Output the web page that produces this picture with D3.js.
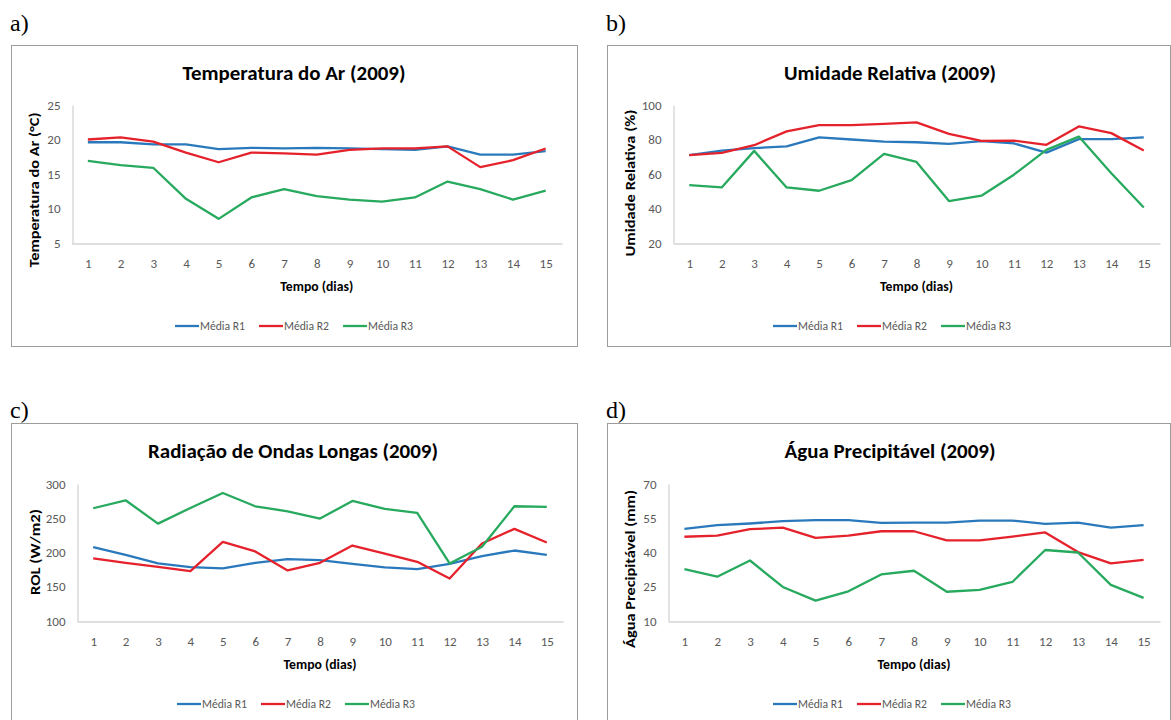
<!DOCTYPE html>
<html>
<head>
<meta charset="utf-8">
<script src="https://cdn.jsdelivr.net/npm/d3@7"></script>
<style>
  html, body { margin: 0; padding: 0; background: #fff; }
  svg { display: block; }
</style>
</head>
<body>
<svg id="chart" width="1171" height="720"></svg>
<script>
// ---- data ----------------------------------------------------------
const days = [1, 2, 3, 4, 5, 6, 7, 8, 9, 10, 11, 12, 13, 14, 15];
const seriesNames = ["Média R1", "Média R2", "Média R3"];

// a) Temperatura do Ar (°C)
const tempR1 = [19.6, 19.6, 19.3, 19.3, 18.6, 18.8, 18.7, 18.8, 18.7, 18.6, 18.5, 19.0, 17.8, 17.8, 18.3];
const tempR2 = [20.0, 20.3, 19.7, 18.1, 16.7, 18.1, 18.0, 17.8, 18.5, 18.7, 18.7, 19.0, 16.0, 17.0, 18.7];
const tempR3 = [16.9, 16.3, 15.9, 11.4, 8.5, 11.6, 12.8, 11.8, 11.3, 11.0, 11.6, 13.9, 12.8, 11.3, 12.6];
const tempTicks = [5, 10, 15, 20, 25];

// b) Umidade Relativa (%)
const umidR1 = [70.9, 73.6, 75.0, 76.0, 81.2, 80.0, 78.8, 78.4, 77.5, 79.0, 77.7, 72.4, 80.2, 80.2, 81.2];
const umidR2 = [70.9, 72.2, 76.7, 84.7, 88.3, 88.3, 89.1, 89.9, 83.3, 79.2, 79.4, 76.9, 87.6, 83.7, 73.6];
const umidR3 = [53.6, 52.2, 73.4, 52.2, 50.3, 56.5, 71.7, 67.0, 44.3, 47.4, 59.6, 74.0, 81.7, 60.4, 40.6];
const umidTicks = [20, 40, 60, 80, 100];

// c) Radiação de Ondas Longas (W/m2)
const rolR1 = [207.8, 196.6, 184.0, 178.6, 176.7, 185.0, 190.3, 188.8, 183.5, 178.2, 175.7, 183.5, 194.7, 202.9, 196.6];
const rolR2 = [191.3, 185.0, 179.1, 172.8, 215.5, 201.5, 173.8, 185.0, 210.2, 198.5, 186.4, 162.1, 213.1, 234.5, 214.6];
const rolR3 = [264.6, 276.2, 242.2, 265.0, 286.9, 267.5, 260.2, 249.5, 275.2, 263.6, 257.8, 184.0, 208.3, 267.5, 266.5];
const rolTicks = [100, 150, 200, 250, 300];

// d) Água Precipitável (mm)
const aguaR1 = [50.3, 52.0, 52.7, 53.7, 54.2, 54.2, 53.0, 53.1, 53.1, 54.0, 54.0, 52.5, 53.1, 50.9, 52.0];
const aguaR2 = [46.9, 47.4, 50.2, 50.9, 46.4, 47.4, 49.3, 49.3, 45.3, 45.3, 47.0, 48.8, 40.2, 35.2, 36.8];
const aguaR3 = [32.7, 29.4, 36.5, 24.9, 18.9, 23.0, 30.4, 32.0, 22.8, 23.6, 27.1, 41.1, 40.0, 25.8, 20.1];
const aguaTicks = [10, 25, 40, 55, 70];

// ---- panel layout --------------------------------------------------
const colors = ["#2A79BC", "#E5222B", "#27A95E"];
const calibri = "Carlito, 'Liberation Sans Narrow', Lato, 'Open Sans', sans-serif";

const panels = [
  { tag: "a)", tagX: 10, tagY: 31,
    box: { x: 11, y: 45, w: 566, h: 301 },
    plot: { l: 71.5, r: 562, t: 105, b: 243 },
    title: "Temperatura do Ar (2009)", titleCX: 294, titleY: 80, titleW: 223,
    yLabel: "Temperatura do Ar (°C)", yLabelX: 35, yLabelCY: 190, yLabelW: 155,
    legendCX: 293,
    ticks: tempTicks, series: [tempR1, tempR2, tempR3] },
  { tag: "b)", tagX: 606, tagY: 31,
    box: { x: 607, y: 45, w: 563, h: 301 },
    plot: { l: 673, r: 1160, t: 105, b: 243 },
    title: "Umidade Relativa (2009)", titleCX: 890, titleY: 80, titleW: 212,
    yLabel: "Umidade Relativa (%)", yLabelX: 631, yLabelCY: 183, yLabelW: 147,
    legendCX: 891,
    ticks: umidTicks, series: [umidR1, umidR2, umidR3] },
  { tag: "c)", tagX: 10, tagY: 418,
    box: { x: 11, y: 423, w: 566, h: 320 },
    plot: { l: 77, r: 563, t: 484, b: 621 },
    title: "Radiação de Ondas Longas (2009)", titleCX: 293, titleY: 458, titleW: 290,
    yLabel: "ROL (W/m2)", yLabelX: 36, yLabelCY: 552, yLabelW: 86,
    legendCX: 295,
    ticks: rolTicks, series: [rolR1, rolR2, rolR3] },
  { tag: "d)", tagX: 606, tagY: 418,
    box: { x: 607, y: 423, w: 563, h: 320 },
    plot: { l: 668, r: 1160, t: 484, b: 621 },
    title: "Água Precipitável (2009)", titleCX: 890, titleY: 458, titleW: 211,
    yLabel: "Água Precipitável (mm)", yLabelX: 631, yLabelCY: 569, yLabelW: 158,
    legendCX: 891,
    ticks: aguaTicks, series: [aguaR1, aguaR2, aguaR3] }
];

const svg = d3.select("#chart");

panels.forEach(p => {
  const g = svg.append("g");

  // panel letter
  g.append("text")
    .attr("x", p.tagX).attr("y", p.tagY)
    .attr("font-family", "'Liberation Serif', 'Times New Roman', serif")
    .attr("font-size", 24).attr("fill", "#000")
    .text(p.tag);

  // chart frame
  g.append("rect")
    .attr("x", p.box.x + 0.5).attr("y", p.box.y + 0.5)
    .attr("width", p.box.w).attr("height", p.box.h)
    .attr("fill", "#fff").attr("stroke", "#9c9c9c").attr("stroke-width", 1);

  // scales
  const x = d3.scalePoint().domain(days).range([p.plot.l, p.plot.r]).padding(0.5);
  const y = d3.scaleLinear()
    .domain([p.ticks[0], p.ticks[p.ticks.length - 1]])
    .range([p.plot.b, p.plot.t]);

  // axes
  const xAxis = g.append("g")
    .attr("transform", `translate(0,${p.plot.b + 0.5})`)
    .call(d3.axisBottom(x).tickSize(0).tickPadding(15));
  const yAxis = g.append("g")
    .attr("transform", `translate(${Math.round(p.plot.l) + 0.5},0)`)
    .call(d3.axisLeft(y).tickValues(p.ticks).tickSize(0).tickPadding(12));
  [xAxis, yAxis].forEach(ax => {
    ax.select(".domain").attr("stroke", "#d4d4d4").attr("stroke-width", 1.3);
    ax.selectAll("text")
      .attr("font-family", calibri)
      .attr("font-size", 13).attr("fill", "#595959");
  });

  // series lines
  const line = d3.line().x((d, i) => x(days[i])).y(d => y(d));
  p.series.forEach((vals, k) => {
    g.append("path")
      .datum(vals)
      .attr("d", line)
      .attr("fill", "none")
      .attr("stroke", colors[k])
      .attr("stroke-width", 2.3)
      .attr("stroke-linejoin", "round");
  });

  // title
  g.append("text")
    .attr("x", p.titleCX).attr("y", p.titleY)
    .attr("text-anchor", "middle")
    .attr("font-family", calibri).attr("font-weight", "bold")
    .attr("font-size", 20).attr("fill", "#000")
    .attr("textLength", p.titleW).attr("lengthAdjust", "spacingAndGlyphs")
    .text(p.title);

  // x axis title
  g.append("text")
    .attr("x", (p.plot.l + p.plot.r) / 2).attr("y", p.plot.b + 48)
    .attr("text-anchor", "middle")
    .attr("font-family", calibri).attr("font-weight", "bold")
    .attr("font-size", 13).attr("fill", "#000")
    .attr("textLength", 73).attr("lengthAdjust", "spacingAndGlyphs")
    .text("Tempo (dias)");

  // y axis title
  g.append("text")
    .attr("transform", `translate(${p.yLabelX + 4},${p.yLabelCY}) rotate(-90)`)
    .attr("text-anchor", "middle")
    .attr("font-family", calibri).attr("font-weight", "bold")
    .attr("font-size", 13).attr("fill", "#000")
    .attr("textLength", p.yLabelW).attr("lengthAdjust", "spacingAndGlyphs")
    .text(p.yLabel);

  // legend
  const legY = p.plot.b + 83;
  const offsets = [-118, -34, 50];
  seriesNames.forEach((name, k) => {
    const lx = p.legendCX + offsets[k];
    g.append("line")
      .attr("x1", lx).attr("x2", lx + 24)
      .attr("y1", legY).attr("y2", legY)
      .attr("stroke", colors[k]).attr("stroke-width", 2.3);
    g.append("text")
      .attr("x", lx + 25).attr("y", legY + 4)
      .attr("font-family", calibri)
      .attr("font-size", 12).attr("fill", "#595959")
      .attr("textLength", 45).attr("lengthAdjust", "spacingAndGlyphs")
      .text(name);
  });
});
</script>
</body>
</html>
